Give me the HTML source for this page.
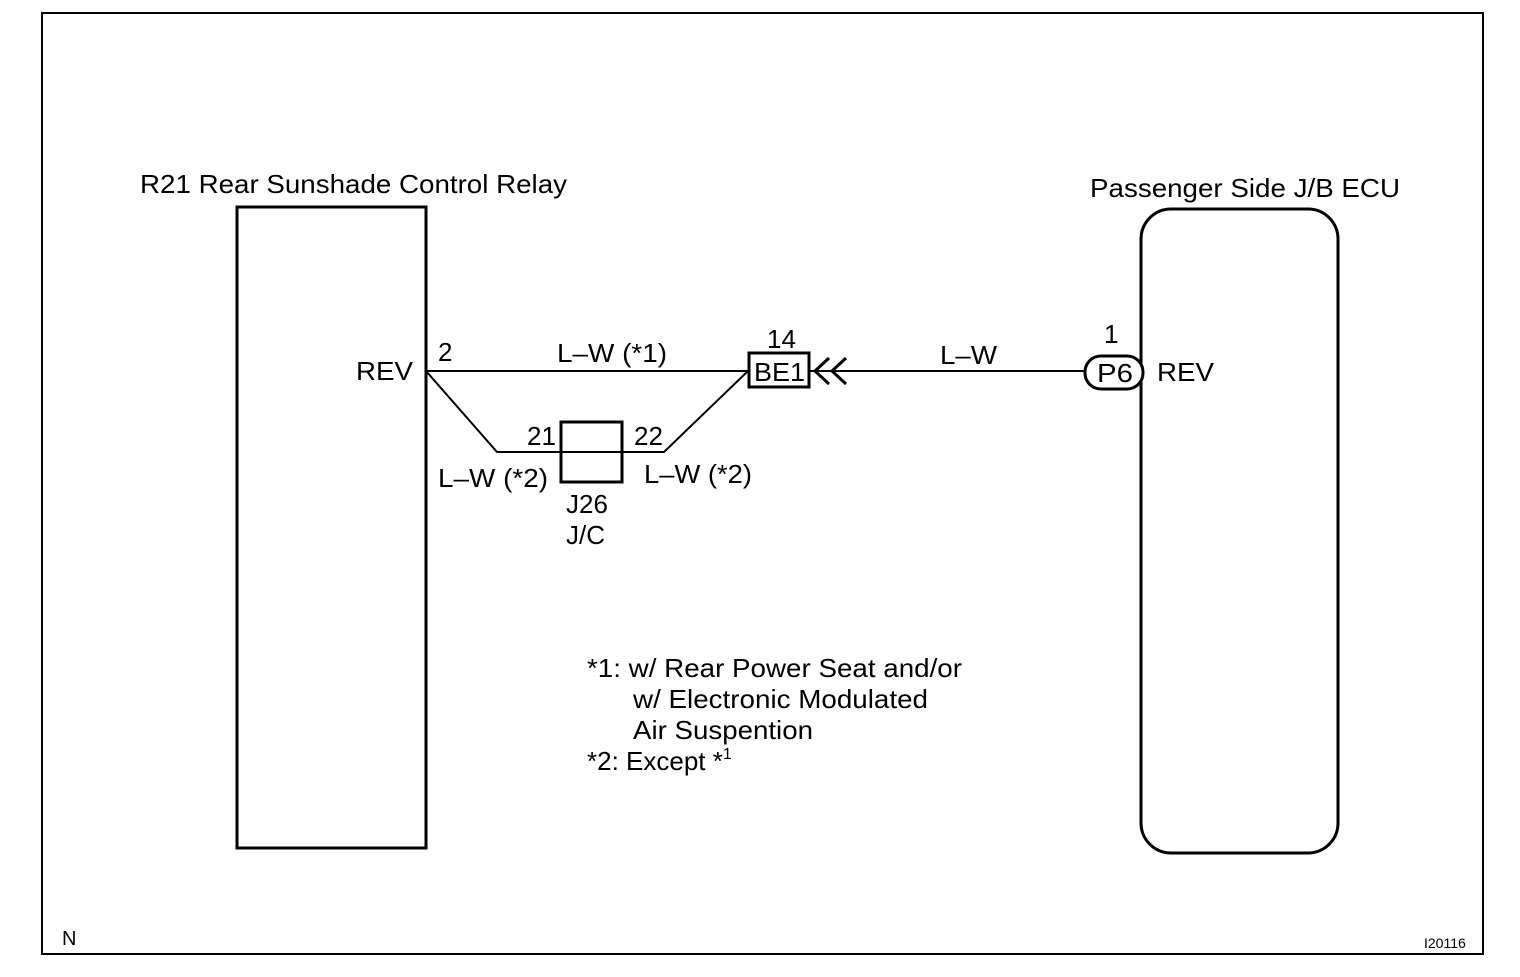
<!DOCTYPE html>
<html><head><style>
body{margin:0;background:#fff;}
svg text{font-family:"Liberation Sans",Arial,sans-serif;fill:#000;}
</style></head><body>
<svg width="1520" height="972" viewBox="0 0 1520 972" xmlns="http://www.w3.org/2000/svg">
<rect x="42" y="13" width="1441" height="941" fill="none" stroke="#000" stroke-width="2"/>
<rect x="237" y="207" width="189" height="641" fill="none" stroke="#000" stroke-width="3"/>
<rect x="1141" y="209" width="197" height="644" rx="30" fill="none" stroke="#000" stroke-width="3"/>
<g stroke="#000" stroke-width="2" fill="none">
<line x1="426" y1="371" x2="748" y2="371"/>
<polyline points="426,371 497,452 560,452"/>
<polyline points="623,452 664,452 748,371"/>
<line x1="810" y1="371" x2="1084" y2="371"/>
<polyline points="829,358 815,371 829,384" stroke-width="3"/>
<polyline points="846,358 832,371 846,384" stroke-width="3"/>
<line x1="560" y1="452" x2="623" y2="452"/>
</g>
<rect x="749" y="353" width="60" height="34" fill="none" stroke="#000" stroke-width="3"/>
<rect x="561" y="422" width="61" height="60" fill="none" stroke="#000" stroke-width="3"/>
<rect x="1085" y="356" width="58" height="33" rx="16" fill="#fff" stroke="#000" stroke-width="3"/>
<g font-size="26">
<text x="140" y="193" textLength="427" lengthAdjust="spacingAndGlyphs">R21 Rear Sunshade Control Relay</text>
<text x="1090" y="197" textLength="310" lengthAdjust="spacingAndGlyphs">Passenger Side J/B ECU</text>
<text x="356" y="380" textLength="57" lengthAdjust="spacingAndGlyphs">REV</text>
<text x="438" y="361">2</text>
<text x="557" y="362" textLength="110" lengthAdjust="spacingAndGlyphs">L–W (*1)</text>
<text x="767" y="348">14</text>
<text x="754" y="381" textLength="51" lengthAdjust="spacingAndGlyphs">BE1</text>
<text x="940" y="364" textLength="57" lengthAdjust="spacingAndGlyphs">L–W</text>
<text x="1104" y="343">1</text>
<text x="1097" y="382" textLength="36" lengthAdjust="spacingAndGlyphs">P6</text>
<text x="1157" y="381" textLength="57" lengthAdjust="spacingAndGlyphs">REV</text>
<text x="527" y="445">21</text>
<text x="634" y="445">22</text>
<text x="438" y="487" textLength="110" lengthAdjust="spacingAndGlyphs">L–W (*2)</text>
<text x="644" y="483" textLength="108" lengthAdjust="spacingAndGlyphs">L–W (*2)</text>
<text x="566" y="513">J26</text>
<text x="566" y="544">J/C</text>
<text x="587" y="677" textLength="375" lengthAdjust="spacingAndGlyphs">*1: w/ Rear Power Seat and/or</text>
<text x="633" y="708" textLength="295" lengthAdjust="spacingAndGlyphs">w/ Electronic Modulated</text>
<text x="633" y="739" textLength="180" lengthAdjust="spacingAndGlyphs">Air Suspention</text>
<text x="587" y="770">*2: Except *<tspan font-size="16" dy="-11">1</tspan></text>
<text x="62" y="945" font-size="20">N</text>
<text x="1424" y="948" font-size="14">I20116</text>
</g>
</svg>
</body></html>
